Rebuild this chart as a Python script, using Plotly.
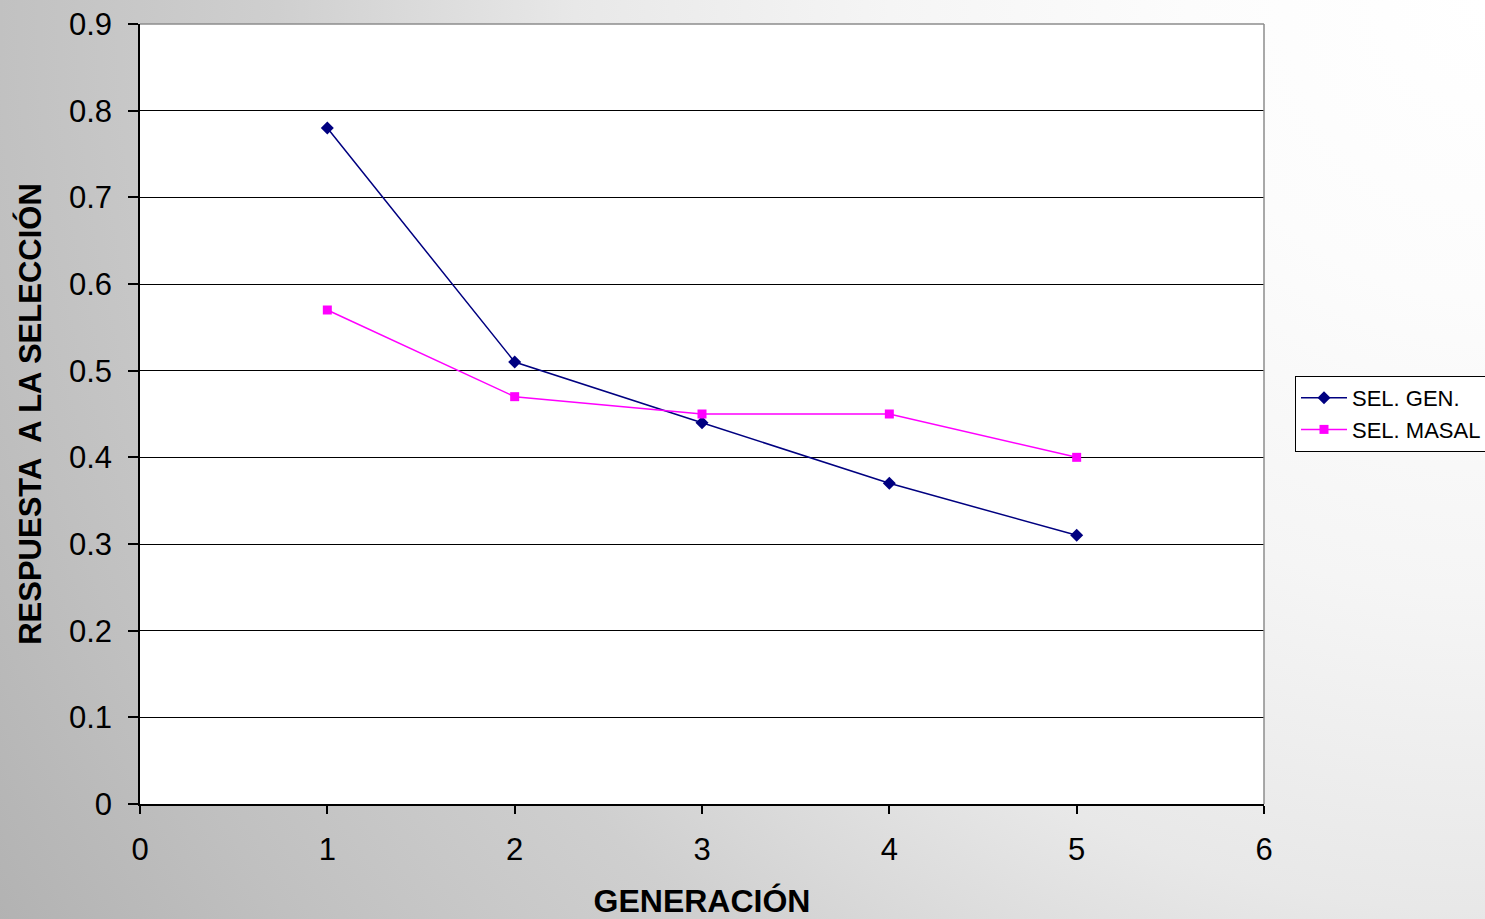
import base64
import plotly.graph_objects as go

# Response to selection per generation
generaciones = [1, 2, 3, 4, 5]
sel_gen = [0.78, 0.51, 0.44, 0.37, 0.31]
sel_masal = [0.57, 0.47, 0.45, 0.45, 0.40]

x_ticks = [0, 1, 2, 3, 4, 5, 6]
y_ticks = [0, 0.1, 0.2, 0.3, 0.4, 0.5, 0.6, 0.7, 0.8, 0.9]
y_tick_text = ["0", "0.1", "0.2", "0.3", "0.4", "0.5", "0.6", "0.7", "0.8", "0.9"]

W, H = 1485, 919
ML, MR, MT, MB = 140, 221, 24, 115
PW, PH = W - ML - MR, H - MT - MB

FONT = "Liberation Sans, Arial, Helvetica, sans-serif"

# Slide-style background: radial grey gradient lightening toward the top-right,
# with the white plotting panel painted on top of it.
bg_svg = f"""<svg xmlns="http://www.w3.org/2000/svg" width="{W}" height="{H}" viewBox="0 0 {W} {H}" preserveAspectRatio="none">
<defs>
<radialGradient id="g" gradientUnits="userSpaceOnUse" cx="{W}" cy="0" r="1750">
<stop offset="0" stop-color="#ffffff"/>
<stop offset="0.17" stop-color="#fcfcfc"/>
<stop offset="0.34" stop-color="#f5f5f5"/>
<stop offset="0.52" stop-color="#e8e8e8"/>
<stop offset="0.69" stop-color="#cfcfcf"/>
<stop offset="0.86" stop-color="#c0c0c0"/>
<stop offset="1" stop-color="#b2b2b2"/>
</radialGradient>
</defs>
<rect x="0" y="0" width="{W}" height="{H}" fill="url(#g)"/>
<rect x="{ML}" y="{MT}" width="{PW}" height="{PH}" fill="#ffffff"/>
</svg>"""
bg_uri = "data:image/svg+xml;base64," + base64.b64encode(bg_svg.encode()).decode()

fig = go.Figure()

fig.add_trace(go.Scatter(
    x=generaciones, y=sel_gen, name="SEL. GEN.",
    mode="lines+markers",
    line=dict(color="#000080", width=1.5),
    marker=dict(symbol="diamond", size=10, color="#000080"),
))
fig.add_trace(go.Scatter(
    x=generaciones, y=sel_masal, name="SEL. MASAL",
    mode="lines+markers",
    line=dict(color="#FF00FF", width=1.5),
    marker=dict(symbol="square", size=9, color="#FF00FF"),
))

fig.add_layout_image(dict(
    source=bg_uri, xref="paper", yref="paper",
    x=-ML / PW, y=1 + MT / PH, sizex=W / PW, sizey=H / PH,
    xanchor="left", yanchor="top", sizing="stretch", layer="below",
))

# grey frame on the top and right edges of the panel
fig.add_shape(type="line", xref="paper", yref="paper", x0=0, x1=1, y0=1, y1=1,
              line=dict(color="#8c8c8c", width=1.5), layer="above")
fig.add_shape(type="line", xref="paper", yref="paper", x0=1, x1=1, y0=0, y1=1,
              line=dict(color="#8c8c8c", width=1.5), layer="above")

fig.update_layout(
    width=W, height=H,
    margin=dict(l=ML, r=MR, t=MT, b=MB, pad=0, autoexpand=False),
    paper_bgcolor="#c8c8c8",
    plot_bgcolor="rgba(0,0,0,0)",
    font=dict(family=FONT, color="#000000"),
    showlegend=True,
    legend=dict(
        x=(1295 - ML) / PW, y=0.5, xanchor="left", yanchor="middle",
        bgcolor="#ffffff", bordercolor="#000000", borderwidth=1,
        font=dict(family=FONT, size=22, color="#000000"),
        itemwidth=46, tracegroupgap=0,
    ),
    xaxis=dict(
        range=[0, 6], tickvals=x_ticks, ticktext=[str(v) for v in x_ticks],
        showgrid=False, zeroline=False, automargin=False,
        showline=True, linecolor="#000000", linewidth=1.5,
        ticks="outside", ticklen=8, tickwidth=1.5, tickcolor="#000000",
        tickfont=dict(family=FONT, size=31, color="#000000"),
        ticklabelstandoff=9,
        title=dict(text="<b>GENERACIÓN</b>", standoff=31,
                   font=dict(family=FONT, size=32, color="#000000")),
    ),
    yaxis=dict(
        range=[0, 0.9], tickvals=y_ticks, ticktext=y_tick_text,
        showgrid=True, gridcolor="#000000", gridwidth=1,
        zeroline=False, automargin=False,
        showline=True, linecolor="#000000", linewidth=1.5,
        ticks="outside", ticklen=10, tickwidth=1.5, tickcolor="#000000",
        tickfont=dict(family=FONT, size=31, color="#000000"),
        ticklabelstandoff=10,
        title=dict(text="<b>RESPUESTA  A LA SELECCIÓN</b>", standoff=18,
                   font=dict(family=FONT, size=31, color="#000000")),
    ),
)

fig.write_html("out.html")
